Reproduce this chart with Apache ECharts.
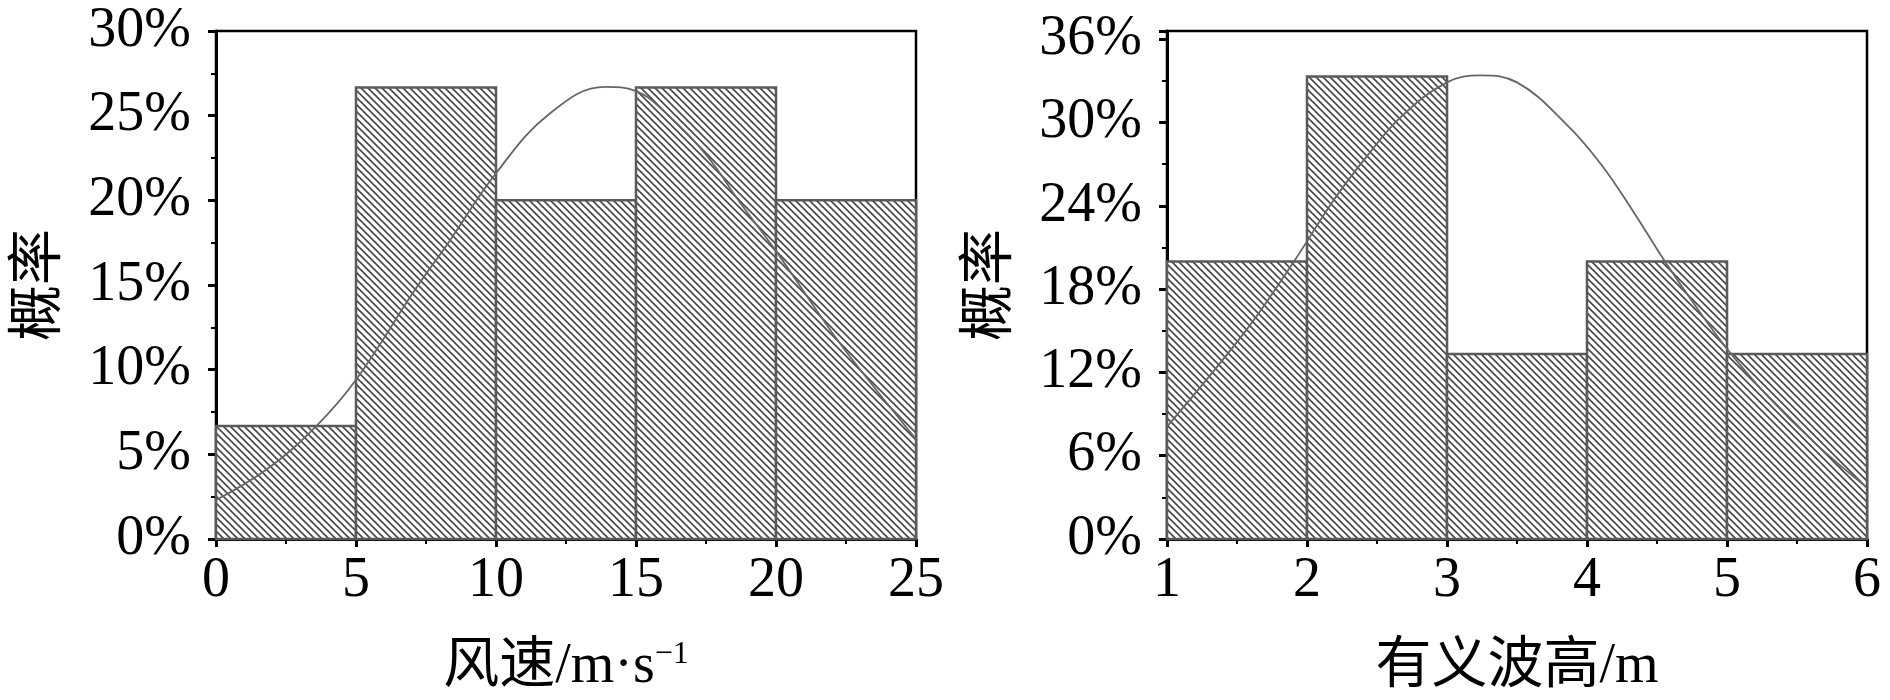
<!DOCTYPE html>
<html>
<head>
<meta charset="utf-8">
<script src="https://cdn.jsdelivr.net/npm/echarts@6/dist/echarts.min.js"></script>
<style>
  html, body { margin: 0; padding: 0; background: #fff; }
  #chart { width: 1890px; height: 700px; }
</style>
</head>
<body>
<div id="chart"></div>
<script>
// 风速 histogram: [bin start, bin end, probability %]
const windBins = [[0, 5, 6.67], [5, 10, 26.67], [10, 15, 20], [15, 20, 26.67], [20, 25, 20]];
// fitted curve: [风速, %]
const windCurve = [
  [0, 2.3], [1.8, 4.1], [3.6, 6.7], [5, 9.4], [7.1, 14.7], [8.3, 17.5], [10, 21.6],
  [11.9, 25.1], [13.9, 26.7], [15, 26.45], [16.1, 25.1], [17.5, 22.7],
  [18.7, 19.9], [20, 17.0], [22, 12.2], [23.2, 9.6], [25, 5.9]
];
// 有义波高 histogram
const waveBins = [[1, 2, 20], [2, 3, 33.33], [3, 4, 13.33], [4, 5, 20], [5, 6, 13.33]];
const waveCurve = [
  [1, 8.1], [1.57, 15.1], [1.92, 20.2], [2.19, 24.4], [2.43, 27.6], [2.67, 30.4],
  [3.0, 32.9], [3.24, 33.4], [3.5, 32.9], [3.86, 29.8], [4.1, 27.0], [4.33, 23.6],
  [4.55, 20.1], [4.76, 17.0], [5.0, 13.7], [5.29, 10.3], [5.64, 6.8], [6.0, 3.7]
];

const FONT = '"Liberation Serif", "Times New Roman", "Noto Sans CJK SC", serif';

// diagonal hatch tile
function makeHatch() {
  const s = 7;
  const c = document.createElement('canvas');
  c.width = s; c.height = s;
  const ctx = c.getContext('2d');
  ctx.fillStyle = '#fff';
  ctx.fillRect(0, 0, s, s);
  ctx.strokeStyle = '#4a4a4a';
  ctx.lineWidth = 1.7;
  for (let k = -1; k <= 1; k++) {
    ctx.beginPath();
    ctx.moveTo(k * s - 1, -1);
    ctx.lineTo(k * s + s + 1, s + 1);
    ctx.stroke();
  }
  return c;
}
const hatch = { image: makeHatch(), repeat: 'repeat' };

function renderBar(params, api) {
  const p0 = api.coord([api.value(0), 0]);
  const p1 = api.coord([api.value(1), api.value(2)]);
  return {
    type: 'rect',
    shape: { x: p0[0], y: p1[1], width: p1[0] - p0[0], height: p0[1] - p1[1] },
    style: { fill: hatch, stroke: '#5a5a5a', lineWidth: 2.5 }
  };
}

function xAxisOf(idx, min, max, interval, name) {
  return {
    type: 'value', gridIndex: idx, min: min, max: max, interval: interval,
    name: name, nameLocation: 'middle', nameGap: 100,
    nameTextStyle: {
      fontFamily: FONT, fontSize: 56, color: '#000',
      rich: { sup: { fontFamily: FONT, fontSize: 32, verticalAlign: 'top', color: '#000' } }
    },
    axisLine: { show: true, lineStyle: { color: '#000', width: 3 } },
    axisTick: { show: true, inside: false, length: 8, lineStyle: { color: '#000', width: 3 } },
    minorTick: { show: true, splitNumber: 2, length: 5, lineStyle: { color: '#000', width: 2 } },
    axisLabel: { fontFamily: FONT, fontSize: 56, color: '#000', margin: 14 },
    splitLine: { show: false }
  };
}

function yAxisOf(idx, max, interval) {
  return {
    type: 'value', gridIndex: idx, min: 0, max: max, interval: interval,
    name: '概率', nameLocation: 'middle', nameGap: 148,
    nameTextStyle: { fontFamily: FONT, fontSize: 56, color: '#000' },
    axisLine: { show: true, lineStyle: { color: '#000', width: 3 } },
    axisTick: { show: true, inside: false, length: 8, lineStyle: { color: '#000', width: 3 } },
    minorTick: { show: true, splitNumber: 2, length: 5, lineStyle: { color: '#000', width: 2 } },
    axisLabel: {
      fontFamily: FONT, fontSize: 56, color: '#000', margin: 25,
      showMaxLabel: idx === 0,
      formatter: v => Math.round(v) + '%'
    },
    splitLine: { show: false }
  };
}

const chart = echarts.init(document.getElementById('chart'));
chart.setOption({
  backgroundColor: '#fff',
  animation: false,
  grid: [
    { left: 216, top: 31, width: 700, height: 514, show: true, borderColor: '#000', borderWidth: 2.5, backgroundColor: '#fff' },
    { left: 1167, top: 31, width: 700, height: 514, show: true, borderColor: '#000', borderWidth: 2.5, backgroundColor: '#fff' }
  ],
  xAxis: [
    xAxisOf(0, 0, 25, 5, '风速/m·s{sup|−1}'),
    xAxisOf(1, 1, 6, 1, '有义波高/m')
  ],
  yAxis: [
    yAxisOf(0, 30, 5),
    yAxisOf(1, 36.6, 6)
  ],
  series: [
    { type: 'custom', xAxisIndex: 0, yAxisIndex: 0, renderItem: renderBar, data: windBins, z: 2 },
    {
      type: 'line', xAxisIndex: 0, yAxisIndex: 0, data: windCurve, smooth: 0.4,
      showSymbol: false, lineStyle: { color: '#666', width: 1.8 }, z: 3
    },
    { type: 'custom', xAxisIndex: 1, yAxisIndex: 1, renderItem: renderBar, data: waveBins, z: 2 },
    {
      type: 'line', xAxisIndex: 1, yAxisIndex: 1, data: waveCurve, smooth: 0.4,
      showSymbol: false, lineStyle: { color: '#666', width: 1.8 }, z: 3
    }
  ]
});
</script>
</body>
</html>
